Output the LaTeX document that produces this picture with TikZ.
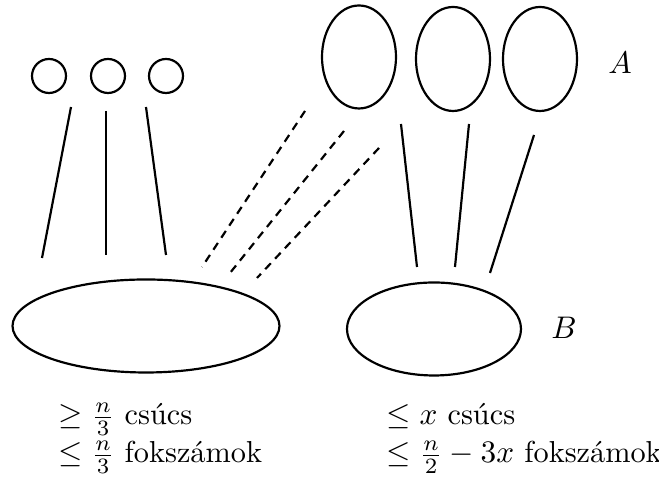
\documentclass[tikz,border=0pt]{standalone}
\usetikzlibrary{shapes.geometric}
\begin{document}
\begin{tikzpicture}[x=0.32pt,y=-0.32pt,
  setshape/.style={draw,ellipse,inner sep=0pt,line width=0.7pt},
  vtx/.style={draw,circle,inner sep=0pt,minimum size={34*0.32pt},line width=0.7pt},
  edgeline/.style={line width=0.7pt},
  dashedge/.style={line width=0.7pt,dash pattern=on 2.6pt off 2pt},
  lab/.style={anchor=base west,inner sep=0pt,font=\fontsize{9.7}{11.6}\selectfont}]
\useasboundingbox (0,0) rectangle (659,484);
% small vertices
\node[vtx] (c1) at (49,76) {};
\node[vtx] (c2) at (108,76) {};
\node[vtx] (c3) at (166,76) {};
% top sets (A)
\node[setshape,minimum width={74*0.32pt},minimum height={103*0.32pt}] (a1) at (359,57) {};
\node[setshape,minimum width={74*0.32pt},minimum height={104*0.32pt}] (a2) at (453,59) {};
\node[setshape,minimum width={74*0.32pt},minimum height={104*0.32pt}] (a3) at (540,59) {};
% bottom sets
\node[setshape,minimum width={267*0.32pt},minimum height={93*0.32pt}] (bl) at (146,326) {};
\node[setshape,minimum width={174*0.32pt},minimum height={93*0.32pt}] (br) at (434,329) {};
% labels
\node[inner sep=0pt] (labA) at (620,63) {$A$};
\node[inner sep=0pt] (labB) at (564,328) {$B$};
% edge end points
\coordinate (l1t) at (71,107);  \coordinate (l1b) at (42,258);
\coordinate (l2t) at (106,111); \coordinate (l2b) at (106,255);
\coordinate (l3t) at (146,107); \coordinate (l3b) at (166,255);
\coordinate (r1t) at (401,124); \coordinate (r1b) at (417,267);
\coordinate (r2t) at (469,124); \coordinate (r2b) at (455,267);
\coordinate (r3t) at (534,135); \coordinate (r3b) at (490,273);
\coordinate (d1t) at (305,111); \coordinate (d1b) at (202,267);
\coordinate (d2t) at (344,131); \coordinate (d2b) at (230,273);
\coordinate (d3t) at (379,148); \coordinate (d3b) at (257,278);
\draw[edgeline] (l1t) -- (l1b);
\draw[edgeline] (l2t) -- (l2b);
\draw[edgeline] (l3t) -- (l3b);
\draw[edgeline] (r1t) -- (r1b);
\draw[edgeline] (r2t) -- (r2b);
\draw[edgeline] (r3t) -- (r3b);
\draw[dashedge] (d1t) -- (d1b);
\draw[dashedge] (d2t) -- (d2b);
\draw[dashedge] (d3t) -- (d3b);
% texts
\node[lab] (t1) at (58,425) {$\geq \frac{n}{3}$ csúcs};
\node[lab] (t2) at (58,463) {$\leq \frac{n}{3}$ fokszámok};
\node[lab] (t3) at (386,425) {$\leq x$ csúcs};
\node[lab] (t4) at (386,463) {$\leq \frac{n}{2} - 3x$ fokszámok};
\end{tikzpicture}
\end{document}
